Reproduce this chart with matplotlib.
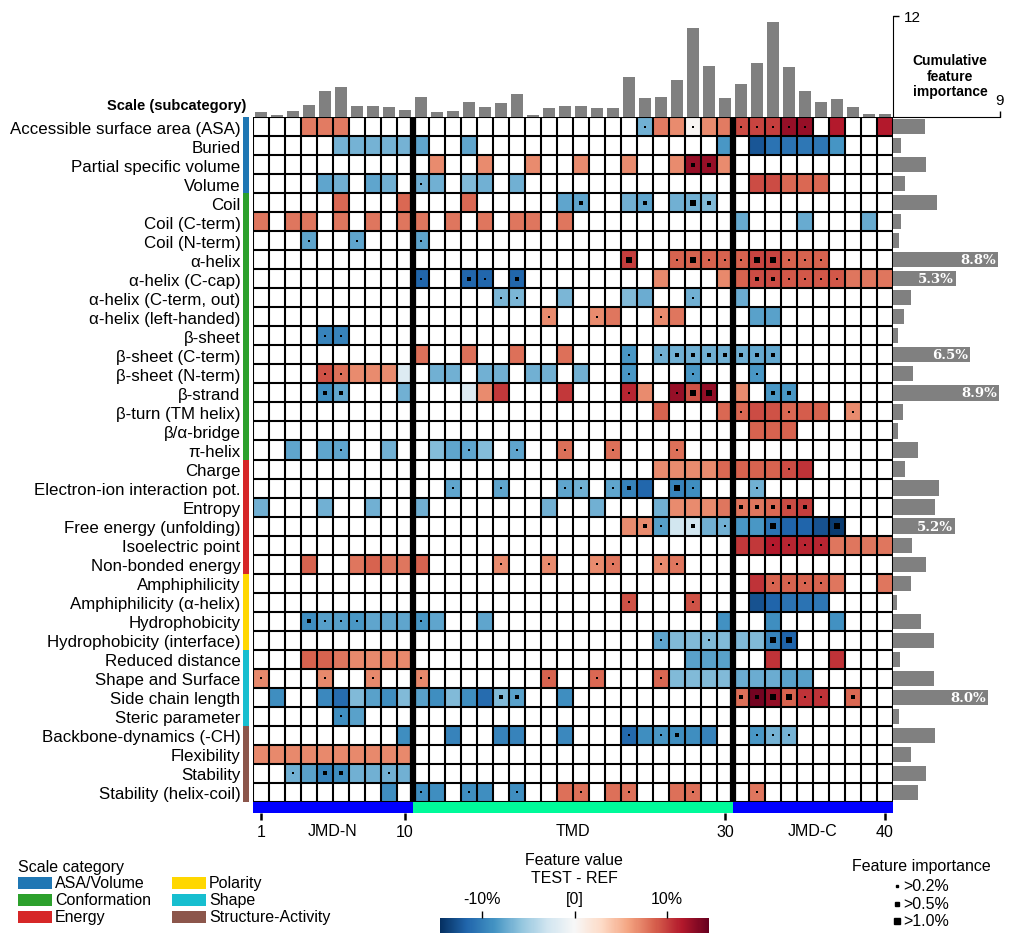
import numpy as np
import matplotlib.pyplot as plt
from matplotlib.patches import Rectangle

plt.rcParams['font.family'] = ['Liberation Sans', 'DejaVu Sans']

# ---------------------------------------------------------
# Data
# ---------------------------------------------------------
positions = np.arange(1, 41)

scales = [
    "Accessible surface area (ASA)", "Buried", "Partial specific volume", "Volume",
    "Coil", "Coil (C-term)", "Coil (N-term)", "α-helix", "α-helix (C-cap)",
    "α-helix (C-term, out)", "α-helix (left-handed)", "β-sheet", "β-sheet (C-term)",
    "β-sheet (N-term)", "β-strand", "β-turn (TM helix)", "β/α-bridge", "π-helix",
    "Charge", "Electron-ion interaction pot.", "Entropy", "Free energy (unfolding)",
    "Isoelectric point", "Non-bonded energy",
    "Amphiphilicity", "Amphiphilicity (α-helix)", "Hydrophobicity", "Hydrophobicity (interface)",
    "Reduced distance", "Shape and Surface", "Side chain length", "Steric parameter",
    "Backbone-dynamics (-CH)", "Flexibility", "Stability", "Stability (helix-coil)",
]
scale_categories = (["ASA/Volume"] * 4 + ["Conformation"] * 14 + ["Energy"] * 6
                    + ["Polarity"] * 4 + ["Shape"] * 4 + ["Structure-Activity"] * 4)
category_names = ["ASA/Volume", "Conformation", "Energy", "Polarity", "Shape", "Structure-Activity"]
category_colors = ["#1f77b4", "#2ca02c", "#d62728", "#ffd700", "#17becf", "#8c564b"]

# cumulative feature importance per residue position (%)
cumulative_importance = [0.57, 0.23, 0.69, 1.37, 3.09, 3.54, 1.26, 1.26, 1.14, 0.8,
                         2.4, 0.57, 0.69, 1.83, 1.14, 1.71, 2.74, 0.23, 1.03, 1.26,
                         1.26, 1.03, 1.03, 4.8, 2.29, 2.4, 4.34, 10.63, 6.06, 2.29,
                         3.89, 6.4, 11.31, 5.94, 3.09, 1.83, 2.17, 1.14, 0.34, 0.34]

# feature importance per scale (%)
scale_importance = [2.69, 0.65, 2.77, 0.99, 3.74, 0.65, 0.48, 8.8, 5.3, 1.5,
                    0.9, 0.4, 6.5, 1.67, 8.9, 0.82, 0.4, 2.1,
                    0.99, 3.88, 3.54, 5.2, 1.59, 2.77,
                    1.5, 0.31, 2.35, 3.46, 0.57, 3.46, 8.0, 0.48,
                    3.54, 1.5, 2.77, 2.1]

# feature value (TEST - REF, %) per scale: {position: value}
feature_values = {
    "Accessible surface area (ASA)": {4: 7.5, 5: 7.5, 6: 7.5, 25: -7, 26: 7.5, 27: 6.8, 28: 0.3, 29: 6.8,
                                      30: 7.5, 31: 9.5, 32: 9.8, 33: 10, 34: 12.6, 35: 12.6, 37: 11.5, 40: 11.5},
    "Buried": {6: -6.8, 7: -6.8, 8: -6.8, 9: -6.8, 10: -6.8, 11: -7.7, 14: -7.7, 30: -8.4,
               32: -12.4, 33: -10.7, 34: -10.7, 35: -10.5, 36: -10.5, 37: -8.6},
    "Partial specific volume": {12: 6.8, 15: 6.8, 18: 6.8, 21: 6.8, 24: 6.8, 27: 6.8, 28: 12.6, 29: 12.6, 30: 6.8},
    "Volume": {5: -7.7, 6: -7, 8: -7.7, 9: -7, 11: -7, 12: -7, 14: -6.4, 15: -7, 17: -7,
               32: 9.5, 33: 9.5, 34: 8.3, 35: 8.3, 36: 8.3},
    "Coil": {6: 8.3, 10: 8.3, 14: 8.3, 20: -7.7, 21: -7.7, 24: -7, 25: -7.7, 27: -7, 28: -7, 29: -6.4},
    "Coil (C-term)": {1: 7.8, 3: 7.8, 4: 7.8, 6: 7.8, 8: 7.8, 10: 7.8, 11: 7.8, 13: 7.8, 15: 7.8,
                      17: 7.8, 18: 7.8, 20: 7.8, 31: -7.3, 35: -7.3, 39: -7.3},
    "Coil (N-term)": {4: -7.7, 7: -7.7, 11: -7.7},
    "α-helix": {24: 10, 27: 8.5, 28: 8.5, 29: 8.5, 30: 8.5, 31: 8.5, 32: 9.8, 33: 9.8,
                34: 8.5, 35: 8.5, 36: 8.5},
    "α-helix (C-cap)": {11: -11.5, 14: -11.5, 15: -11.5, 17: -11.5, 26: 7, 30: 7, 31: 8.5, 32: 9.5,
                        33: 9.5, 34: 9, 35: 9, 36: 9, 37: 9, 38: 7.8, 39: 7.8, 40: 7.8},
    "α-helix (C-term, out)": {16: -6.6, 17: -6.6, 20: -6.6, 24: -6.4, 25: -7.2, 28: -7, 31: -7.2},
    "α-helix (left-handed)": {19: 6.8, 22: 6.8, 23: 7.8, 26: 6.8, 27: 7.8, 32: -7.9, 33: -7.9},
    "β-sheet": {5: -9.7, 6: -9.7},
    "β-sheet (C-term)": {11: 8, 14: 8, 17: 8, 20: 8, 24: -8.4, 26: -7, 27: -7, 28: -7, 29: -7,
                         30: -7, 31: -7, 32: -7.4, 33: -7.4},
    "β-sheet (N-term)": {5: 9.2, 6: 8, 7: 6.8, 8: 6.8, 9: 6.8, 10: -2, 12: -7, 13: -7, 15: -7, 16: -7,
                         18: -7, 19: -7, 21: -7, 24: -8.4, 28: -8.4, 32: -8.4},
    "β-strand": {5: -9, 6: -7.5, 10: -7, 14: -2, 15: 6.8, 16: 10.3, 20: 10.3, 24: 11, 25: 6.8,
                 27: 12.6, 28: 9.2, 29: 12.8, 31: 6.8, 33: -8.4, 34: -8.4},
    "β-turn (TM helix)": {26: 8.5, 30: 8.3, 31: 8.3, 32: 9.5, 33: 9.2, 34: 8.3, 35: 8.8, 36: 8.5, 38: 6.8},
    "β/α-bridge": {32: 8.5, 33: 8.5, 34: 8.5},
    "π-helix": {3: -7.7, 5: -7.7, 6: -7.7, 9: -7, 12: -6.3, 13: -7.7, 14: -7.7, 15: -6.3, 17: -7.7,
                20: 8, 23: 8, 27: 8},
    "Charge": {26: 6.8, 27: 6.8, 28: 6.8, 29: 6.8, 30: 8.3, 31: 8.5, 32: 8.5, 33: 8.5, 34: 9.5, 35: 10.5},
    "Electron-ion interaction pot.": {13: -7.7, 16: -7.7, 20: -7.7, 21: -7, 23: -7.7, 24: -9.7, 25: -11.5,
                                      27: -9.7, 28: -9, 32: -7},
    "Entropy": {1: -7, 5: -7, 8: -7, 11: -7, 19: -7, 22: -7, 26: -7, 27: 6.8, 28: 6.8, 29: 6.8,
                30: 7.8, 31: 7.8, 32: 7.8, 33: 8.3, 34: 9.5, 35: 10},
    "Free energy (unfolding)": {24: 6.8, 25: 6.8, 26: -8, 27: -2.8, 28: -2.8, 29: -7, 30: -7, 31: -8.4,
                                32: -8.4, 33: -10.7, 34: -11.6, 35: -11.6, 36: -12.6, 37: -13.9},
    "Isoelectric point": {31: 10.2, 32: 10.2, 33: 11.5, 34: 11, 35: 11, 36: 11, 37: 7.8, 38: 7.8, 39: 7.8, 40: 7.8},
    "Non-bonded energy": {4: 8.5, 7: 7.8, 8: 8.5, 9: 7.8, 10: 7.8, 11: 8.5, 16: 6.8, 19: 6.8, 22: 6.8,
                          23: 7.8, 26: 6.8, 27: 7.8},
    "Amphiphilicity": {32: 10.5, 33: 8.5, 34: 8.5, 35: 8.5, 36: 8.5, 37: 7.8, 40: 7.8},
    "Amphiphilicity (α-helix)": {24: 9.2, 28: 9.2, 32: -12.6, 33: -11.6, 34: -10.7, 35: -10.7, 36: -10.5},
    "Hydrophobicity": {4: -9, 5: -8, 6: -8, 7: -8.4, 8: -7.7, 9: -7.7, 10: -7.7, 11: -8.4, 12: -7.7,
                       15: -7.7, 30: -8.8, 33: -9, 37: -8.8},
    "Hydrophobicity (interface)": {26: -7.7, 27: -6.4, 28: -6.4, 29: -6.4, 30: -6.4, 31: -6.4, 32: -6.4,
                                   33: -9.7, 34: -11.6},
    "Reduced distance": {4: 8.5, 5: 8.5, 6: 7.8, 7: 7, 8: 7, 9: 7, 10: 7, 28: -7.9, 29: -7.9, 30: -7.9,
                         33: 10.5, 37: 10.5},
    "Shape and Surface": {1: 7, 5: 7, 8: 7, 11: 7, 19: 8.5, 22: 8.3, 26: 8.3, 27: -6.4, 28: -6.4,
                          29: -6.4, 30: -6.4, 31: -7.2, 32: -7.2, 33: -7.2, 34: -7.9, 35: -7.9},
    "Side chain length": {2: -9, 5: -9.4, 6: -11.2, 7: -6.4, 8: -7.9, 9: -9, 10: -6.4, 11: -7.9, 12: -9,
                          13: -6.4, 14: -9, 15: -11.2, 16: -6.4, 17: -7.9, 20: -9, 31: 8, 32: 14,
                          33: 12.8, 34: 8.5, 35: 10.5, 36: 10.5, 38: 8.3},
    "Steric parameter": {6: -9, 7: -7.9},
    "Backbone-dynamics (-CH)": {10: -9, 13: -9.7, 16: -9.7, 17: -9.7, 20: -9.3, 24: -11.4, 25: -9,
                                26: -8.4, 27: -9, 28: -9, 29: -9.7, 32: -8.4, 33: -6.8, 34: -6.8},
    "Flexibility": {p: 7 for p in range(1, 11)},
    "Stability": {3: -7, 4: -7.9, 5: -9.7, 6: -9, 7: -7, 8: -7, 9: -7, 10: -7},
    "Stability (helix-coil)": {9: -9, 11: -9, 12: -9, 14: -9, 15: -9, 17: -9, 20: 8, 21: 8, 23: 8,
                               24: 8, 27: 8, 28: 8, 32: 7.8},
}

# feature importance of single features (%): {position: importance}
feature_importance = {
    "Accessible surface area (ASA)": {25: 0.3, 28: 0.3, 31: 0.3, 32: 0.3, 33: 0.3, 34: 0.3, 35: 0.3},
    "Partial specific volume": {28: 0.7, 29: 0.7},
    "Volume": {11: 0.3},
    "Coil": {21: 0.7, 25: 0.7, 28: 1.2, 29: 0.7},
    "Coil (N-term)": {4: 0.3, 7: 0.3, 11: 0.3},
    "α-helix": {24: 1.2, 27: 0.3, 28: 1.2, 29: 0.3, 30: 0.3, 31: 0.3, 32: 1.2, 33: 1.2,
                34: 0.3, 35: 0.3, 36: 0.3},
    "α-helix (C-cap)": {11: 0.3, 14: 0.7, 15: 0.3, 17: 0.7, 32: 0.7, 33: 0.7, 34: 0.3, 35: 0.3,
                        36: 0.3, 37: 0.3},
    "α-helix (C-term, out)": {16: 0.3, 17: 0.3, 28: 0.3},
    "α-helix (left-handed)": {19: 0.3, 22: 0.3, 26: 0.3},
    "β-sheet": {5: 0.3, 6: 0.3},
    "β-sheet (C-term)": {24: 0.3, 26: 0.3, 27: 0.7, 28: 0.7, 29: 0.7, 30: 0.7, 31: 0.7, 32: 0.7, 33: 0.7},
    "β-sheet (N-term)": {5: 0.3, 6: 0.3, 24: 0.3, 28: 0.3, 32: 0.3},
    "β-strand": {5: 0.7, 6: 0.7, 24: 0.3, 27: 0.3, 28: 1.2, 29: 1.2, 33: 0.7, 34: 0.7},
    "β-turn (TM helix)": {31: 0.3, 34: 0.3, 38: 0.3},
    "π-helix": {6: 0.3, 14: 0.3, 17: 0.3, 20: 0.3, 23: 0.3, 27: 0.3},
    "Charge": {34: 0.3},
    "Electron-ion interaction pot.": {13: 0.3, 16: 0.3, 20: 0.3, 21: 0.3, 23: 0.3, 24: 0.7, 27: 1.2,
                                      28: 0.3, 32: 0.3},
    "Entropy": {31: 0.7, 32: 0.7, 33: 0.7, 34: 0.7, 35: 0.7},
    "Free energy (unfolding)": {25: 0.7, 26: 0.3, 28: 0.7, 30: 0.3, 33: 1.2, 37: 1.2},
    "Isoelectric point": {33: 0.3, 34: 0.3, 35: 0.3, 36: 0.3},
    "Non-bonded energy": {16: 0.3, 19: 0.3, 22: 0.3, 23: 0.3, 26: 0.3, 27: 0.3},
    "Amphiphilicity": {33: 0.3, 34: 0.3, 35: 0.3, 36: 0.3},
    "Amphiphilicity (α-helix)": {24: 0.3, 28: 0.3},
    "Hydrophobicity": {4: 0.7, 5: 0.3, 6: 0.3, 7: 0.3, 11: 0.3},
    "Hydrophobicity (interface)": {26: 0.3, 29: 0.3, 33: 1.2, 34: 1.2},
    "Shape and Surface": {1: 0.3, 5: 0.3, 8: 0.3, 11: 0.3, 19: 0.3, 22: 0.3, 26: 0.3},
    "Side chain length": {16: 0.7, 17: 0.7, 31: 0.7, 32: 0.7, 33: 1.2, 34: 1.2, 35: 0.3, 36: 0.3, 38: 0.7},
    "Steric parameter": {6: 0.3},
    "Backbone-dynamics (-CH)": {24: 0.3, 26: 0.3, 27: 0.7, 32: 0.3, 33: 0.3, 34: 0.3},
    "Stability": {3: 0.3, 5: 0.7, 6: 0.7, 9: 0.3},
    "Stability (helix-coil)": {11: 0.3, 14: 0.3, 17: 0.3, 21: 0.3, 24: 0.3, 28: 0.3, 32: 0.3},
}

domains = ["JMD-N", "TMD", "JMD-C"]
domain_spans = [(1, 10), (11, 30), (31, 40)]
domain_colors = ["#0000ff", "#00fa9a", "#0000ff"]

imp_thresholds = [0.2, 0.5, 1.0]
imp_sizes = [2.2, 6.5, 13]

# ---------------------------------------------------------
# Figure layout (pixel based)
# ---------------------------------------------------------
W, H = 1014, 945
fig = plt.figure(figsize=(W / 100, H / 100), dpi=100)


def box(x0, y0, x1, y1):
    return [x0 / W, 1 - y1 / H, (x1 - x0) / W, (y1 - y0) / H]


n_rows = len(scales)
ax = fig.add_axes(box(253, 118, 893, 803))
ax_top = fig.add_axes(box(253, 17, 893, 118))
ax_right = fig.add_axes(box(893, 118, 1000, 803))
ax_cat = fig.add_axes(box(243, 118, 249, 803))
ax_dom = fig.add_axes(box(253, 803, 893, 814))
ax_cb = fig.add_axes(box(440, 919, 709, 934))

# ---------------------------------------------------------
# Heatmap
# ---------------------------------------------------------
vals = np.full((n_rows, len(positions)), np.nan)
for i, s in enumerate(scales):
    for p, v in feature_values[s].items():
        vals[i, p - 1] = v

cmap = plt.get_cmap('RdBu_r').copy()
cmap.set_bad('white')
mesh = ax.pcolormesh(np.arange(0.5, 41), np.arange(-0.5, n_rows), np.ma.masked_invalid(vals),
                     cmap=cmap, vmin=-14.5, vmax=14.5, linewidth=0)
ax.vlines(np.arange(0.5, 41), -0.5, n_rows - 0.5, color='black', lw=1.5)
ax.hlines(np.arange(-0.5, n_rows), 0.5, 40.5, color='black', lw=1.5)
ax.vlines([10.5, 30.5], -0.5, n_rows - 0.5, color='black', lw=4.5)

# importance markers
for i, s in enumerate(scales):
    for p, imp in feature_importance.get(s, {}).items():
        size = 0
        for t, sz in zip(imp_thresholds, imp_sizes):
            if imp > t:
                size = sz
        ax.scatter(p, i, marker='s', s=size, color='black', linewidths=0, zorder=5)

ax.set_xlim(0.5, 40.5)
ax.set_ylim(n_rows - 0.5, -0.5)
ax.set_xticks([])
ax.set_yticks(range(n_rows))
ax.set_yticklabels(scales, fontsize=12.2)
ax.tick_params(axis='y', length=0, pad=9)
for sp in ax.spines.values():
    sp.set_visible(False)
fig.text(246 / W, 1 - 106 / H, "Scale (subcategory)", ha='right', va='center',
         fontsize=10.5, fontweight='bold')

# ---------------------------------------------------------
# Category strip
# ---------------------------------------------------------
cat_color = {c: col for c, col in zip(category_names, category_colors)}
ax_cat.barh(range(n_rows), 1, height=1, color=[cat_color[c] for c in scale_categories], linewidth=0)
ax_cat.set_ylim(n_rows - 0.5, -0.5)
ax_cat.set_xlim(0, 1)
ax_cat.axis('off')

# ---------------------------------------------------------
# Domain strip
# ---------------------------------------------------------
for (start, end), col, name in zip(domain_spans, domain_colors, domains):
    ax_dom.bar((start + end) / 2, 1, width=end - start + 1, color=col, linewidth=0)
    ax_dom.annotate(name, xy=((start + end) / 2, 0),
                    xycoords=('data', 'axes fraction'), xytext=(0, -7), textcoords='offset points',
                    ha='center', va='top', fontsize=11.5)
ax_dom.set_xlim(0.5, 40.5)
ax_dom.set_ylim(0, 1)
ax_dom.set_yticks([])
ax_dom.set_xticks([1, 10, 30, 40])
ax_dom.tick_params(axis='x', length=5, width=1.8, labelsize=11.5, pad=3)
for sp in ax_dom.spines.values():
    sp.set_visible(False)

# ---------------------------------------------------------
# Top bar chart: cumulative importance per position
# ---------------------------------------------------------
ax_top.bar(positions, cumulative_importance, width=0.8, color='grey')
ax_top.set_xlim(0.5, 40.5)
ax_top.set_ylim(0, 12)
ax_top.yaxis.tick_right()
ax_top.set_yticks([12])
ax_top.set_xticks([])
ax_top.tick_params(axis='y', labelsize=11, length=4, width=1)
for k in ['left', 'top', 'bottom']:
    ax_top.spines[k].set_visible(False)
ax_top.text(1.089, 0.41, "Cumulative\nfeature\nimportance", transform=ax_top.transAxes,
            ha='center', va='center', fontsize=10, fontweight='bold', linespacing=1.15)

# ---------------------------------------------------------
# Right bar chart: importance per scale
# ---------------------------------------------------------
ax_right.barh(range(n_rows), scale_importance, height=0.8, color='grey')
ax_right.set_ylim(n_rows - 0.5, -0.5)
ax_right.set_xlim(0, 9)
ax_right.xaxis.tick_top()
ax_right.set_xticks([9])
ax_right.set_yticks([])
ax_right.tick_params(axis='x', labelsize=11, length=4, width=1)
for k in ['left', 'right', 'bottom']:
    ax_right.spines[k].set_visible(False)
for i, v in enumerate(scale_importance):
    if v >= 5:
        ax_right.text(v - 0.15, i, f"{v:.1f}%", ha='right', va='center', color='white',
                      fontsize=9.5, fontweight='bold', family='DejaVu Serif')

# ---------------------------------------------------------
# Colorbar
# ---------------------------------------------------------
cb = fig.colorbar(mesh, cax=ax_cb, orientation='horizontal')
cb.outline.set_visible(False)
ax_cb.xaxis.set_ticks_position('top')
cb.set_ticks([-10, 0, 10])
cb.set_ticklabels(["-10%", "[0]", "10%"])
ax_cb.tick_params(labelsize=11.5, length=5, width=1)
fig.text(574 / W, 1 - 861 / H, "Feature value", ha='center', va='center', fontsize=11.5)
fig.text(574 / W, 1 - 879 / H, "TEST - REF", ha='center', va='center', fontsize=11.5)

# ---------------------------------------------------------
# Scale category legend
# ---------------------------------------------------------
fig.text(18 / W, 1 - 868 / H, "Scale category", ha='left', va='center', fontsize=11.5)
for k, (name, col) in enumerate(zip(category_names, category_colors)):
    colx = 18 if k < 3 else 172
    rowy = 884 + 17 * (k % 3)
    fig.add_artist(Rectangle((colx / W, 1 - (rowy + 6) / H), 34 / W, 12 / H,
                             transform=fig.transFigure, color=col, lw=0))
    fig.text((colx + 37) / W, 1 - rowy / H, name, ha='left', va='center', fontsize=11.5)

# ---------------------------------------------------------
# Feature importance legend
# ---------------------------------------------------------
fig.text(921 / W, 1 - 867 / H, "Feature importance", ha='center', va='center', fontsize=11.5)
for k, (t, sz) in enumerate(zip(imp_thresholds, imp_sizes)):
    yy = 1 - (887 + 17.5 * k) / H
    fig.add_artist(plt.Line2D([897 / W], [yy], marker='s', markersize=np.sqrt(sz),
                              color='black', lw=0, transform=fig.transFigure))
    fig.text(903 / W, yy, f">{t:.1f}%", ha='left', va='center', fontsize=11.5)

plt.savefig("out.png", dpi=100)
